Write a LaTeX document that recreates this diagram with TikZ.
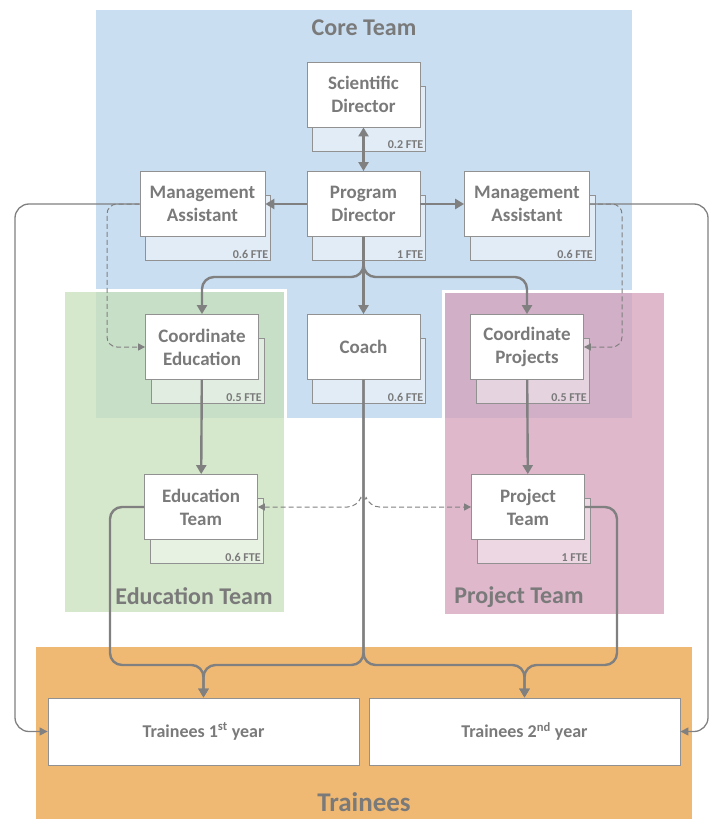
\documentclass[tikz,border=0pt]{standalone}
\usepackage{fontspec}
\setmainfont{Carlito}
\usetikzlibrary{arrows.meta}

\definecolor{coreblue}{RGB}{201,222,241}
\definecolor{edugreen}{RGB}{200,224,186}
\definecolor{projpurple}{RGB}{212,160,186}
\definecolor{trainorange}{RGB}{239,185,116}
\definecolor{linegray}{RGB}{128,128,128}
\definecolor{textgray}{RGB}{122,122,122}
\definecolor{boxgray}{RGB}{145,145,145}

\tikzset{
  box/.style={draw=boxgray, fill=white, line width=0.8pt, minimum width=113pt,
    minimum height=65pt, align=center, inner sep=2pt, text=textgray,
    font=\fontsize{19}{23}\selectfont\bfseries},
  backbox/.style={draw=boxgray, fill=white, fill opacity=0.45, line width=0.8pt,
    minimum width=113pt, minimum height=65pt},
  fte/.style={text=textgray, font=\fontsize{12}{14}\selectfont\bfseries,
    inner sep=2.5pt, anchor=south east},
  title/.style={text=textgray, font=\fontsize{24}{28}\selectfont\bfseries},
  flow/.style={draw=linegray, line width=2.4pt, rounded corners=12pt,
    >={Triangle[length=9pt,width=10pt]}},
  thinflow/.style={draw=linegray, line width=1.3pt, rounded corners=14pt,
    >={Triangle[length=8pt,width=8pt]}},
  dashflow/.style={draw=linegray, line width=1pt, dash pattern=on 5pt off 3pt,
    rounded corners=10pt, >={Triangle[length=7pt,width=7pt]}}
}

\begin{document}
\begin{tikzpicture}[x=1pt, y=-1pt]

\useasboundingbox (0,0) rectangle (710,821);

\fill [coreblue] (96,10) rectangle (632,418);
\filldraw [fill=edugreen, fill opacity=0.75, draw=white, line width=3pt] (63,290) rectangle (285,613);
\filldraw [fill=projpurple, fill opacity=0.75, draw=white, line width=3pt] (443,291) rectangle (665,615);
\fill [trainorange] (36,647) rectangle (692,819);

\node [title] (coret) at (364,28) {Core Team};
\node [title] (edut) at (194,596) {Education Team};
\node [title] (projt) at (519,597) {Project Team};
\node [title, font=\fontsize{27}{31}\selectfont\bfseries] (traint) at (364,802) {Trainees};

\node [backbox] (sd-b) at (369,118.5) {};
\node [backbox] (pd-b) at (369,228) {};
\node [backbox, minimum width=125pt] (ma1-b) at (208,228) {};
\node [backbox, minimum width=125pt] (ma2-b) at (532.5,228) {};
\node [backbox] (ce-b) at (207.5,371) {};
\node [backbox] (coach-b) at (369,371) {};
\node [backbox] (cp-b) at (532.5,371) {};
\node [backbox] (et-b) at (206.5,531) {};
\node [backbox] (pt-b) at (533.5,531) {};

\node [fte] at (sd-b.south east) {0.2 FTE};
\node [fte] at (pd-b.south east) {1 FTE};
\node [fte] at (ma1-b.south east) {0.6 FTE};
\node [fte] at (ma2-b.south east) {0.6 FTE};
\node [fte] at (ce-b.south east) {0.5 FTE};
\node [fte] at (coach-b.south east) {0.6 FTE};
\node [fte] at (cp-b.south east) {0.5 FTE};
\node [fte] at (et-b.south east) {0.6 FTE};
\node [fte] at (pt-b.south east) {1 FTE};

\node [box] (sd) at (363.5,94.5) {Scientific\\Director};
\node [box] (pd) at (363.5,204) {Program\\Director};
\node [box, minimum width=125pt] (ma1) at (202.5,204) {Management\\Assistant};
\node [box, minimum width=125pt] (ma2) at (527,204) {Management\\Assistant};
\node [box] (ce) at (202,347) {Coordinate\\Education};
\node [box] (coach) at (363.5,347) {Coach};
\node [box] (cp) at (527,347) {Coordinate\\Projects};
\node [box] (et) at (201,507) {Education\\Team};
\node [box] (pt) at (528,507) {Project\\Team};

\node [box, minimum width=311pt, minimum height=67pt, font=\fontsize{18}{22}\selectfont\bfseries] (t1) at (203.5,731.5) {Trainees 1\textsuperscript{st} year};
\node [box, minimum width=311pt, minimum height=67pt, font=\fontsize{18}{22}\selectfont\bfseries] (t2) at (524.5,731.5) {Trainees 2\textsuperscript{nd} year};

\draw [flow, <->] (sd) -- (pd);
\draw [flow, ->] (pd) -- (ma1);
\draw [flow, ->] (pd) -- (ma2);

\draw [flow, ->] (pd.south) -- (363.5,277) -- (202,277) -- (ce.north);
\draw [flow, ->] (pd.south) -- (coach.north);
\draw [flow, ->] (pd.south) -- (363.5,277) -- (527,277) -- (cp.north);

\draw [flow, ->] (ce) -- (et);
\draw [flow, ->] (cp) -- (pt);

\draw [flow, ->] (et.west) -- (110,507) -- (110,665) -- (203.5,665) -- (t1.north);
\draw [flow, ->] (coach.south) -- (363.5,665) -- (203.5,665) -- (t1.north);
\draw [flow, ->] (coach.south) -- (363.5,665) -- (524.5,665) -- (t2.north);
\draw [flow, ->] (pt.east) -- (617,507) -- (617,665) -- (524.5,665) -- (t2.north);

\draw [thinflow, ->] (ma1.west) -- (15,204) -- (15,731.5) -- (t1.west);
\draw [thinflow, ->] (ma2.east) -- (708,204) -- (708,731.5) -- (t2.east);

\draw [dashflow, ->] (ma1.west) -- (107,204) -- (107,347) -- (ce.west);
\draw [dashflow, ->] (ma2.east) -- (622,204) -- (622,347) -- (cp.east);

\coordinate (hopl) at (357.5,507);
\coordinate (hopr) at (369.5,507);
\draw [dashflow, <->] (et.east) -- (hopl) .. controls (360,500) and (367,500) .. (hopr) -- (pt.west);

\end{tikzpicture}
\end{document}
